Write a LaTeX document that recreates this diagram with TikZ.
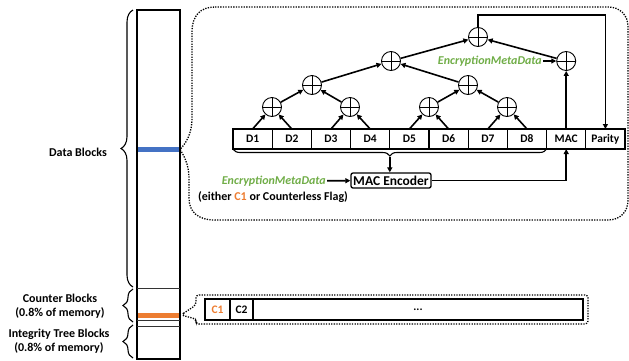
\documentclass[tikz,border=0pt]{standalone}
\usepackage{fontspec}
\setmainfont{Carlito}
\usepackage{xcolor}
\usepackage{tikz}
\usetikzlibrary{arrows.meta,positioning,calc,decorations.pathreplacing}
\definecolor{memblue}{HTML}{4472C4}
\definecolor{memorange}{HTML}{ED7D31}
\definecolor{memgreen}{HTML}{70AD47}

\begin{document}
\begin{tikzpicture}[
    x=1pt,y=-1pt,
    cell/.style   = {rectangle,draw,line width=1.3pt,outer sep=0pt,inner sep=0pt,
                     minimum width=39.2pt,minimum height=20pt,
                     font=\fontsize{11.5}{13}\selectfont\bfseries},
    ctr/.style    = {rectangle,draw,line width=1.3pt,outer sep=0pt,inner sep=0pt,
                     minimum height=21pt,font=\fontsize{11.5}{13}\selectfont\bfseries},
    xor/.style    = {circle,draw,line width=0.9pt,minimum size=19pt,inner sep=0pt,
                     path picture={\draw[line width=0.9pt]
                       (path picture bounding box.north) -- (path picture bounding box.south)
                       (path picture bounding box.west) -- (path picture bounding box.east);}},
    enc/.style    = {rectangle,rounded corners=2pt,draw,line width=1.3pt,inner sep=1pt,
                     minimum width=80pt,minimum height=15pt,
                     font=\fontsize{13.5}{15}\selectfont\bfseries},
    fl/.style     = {-{Triangle[length=5pt,width=5pt]},line width=1.6pt},
    lab/.style    = {font=\fontsize{12}{14.5}\selectfont\bfseries,align=center},
    meta/.style   = {font=\fontsize{12}{14}\selectfont\bfseries\itshape,text=memgreen,
                     inner sep=1pt},
    pointil/.style= {line width=1.3pt,dash pattern=on 1.3pt off 1.3pt},
    accol/.style  = {decorate,decoration={brace,amplitude=#1},line width=1.1pt},
  ]
  \useasboundingbox (0,0) rectangle (629,360);

  % memory column
  \draw[line width=1.5pt] (137,10) rectangle (180,359);
  \draw[line width=0.9pt,black!80] (137,288) -- (180,288) (137,320) -- (180,320)
                                   (137,326) -- (180,326);
  \fill[memblue]   (137.8,147) rectangle (179.2,152);
  \fill[memorange] (137.8,312.5) rectangle (179.2,317.5);
  \coordinate (bleu) at (180,149.5);
  \coordinate (orange) at (181,315);

  \draw[accol=12pt] (133,287) -- (133,10);
  \draw[accol=10pt] (133,322) -- (133,289);
  \draw[accol=10pt] (133,358) -- (133,325);

  \node[lab] (datalab) at (78,152) {Data Blocks};
  \node[lab] (ctrlab)  at (60,306) {Counter Blocks\\(0.8\% of memory)};
  \node[lab] (treelab) at (59,341) {Integrity Tree Blocks\\(0.8\% of memory)};

  % callout of one data block
  \draw[pointil] (215,7) -- (608,7) .. controls (620,7) and (628,15) .. (628,27)
       -- (628,200) .. controls (628,212) and (620,220) .. (608,220)
       -- (215,220) .. controls (198,220) and (189,212) .. (189,198)
       -- (189,178) .. controls (189,164) and (183,154) .. (bleu)
       .. controls (186,143) and (192,134) .. (192,118)
       -- (192,32) .. controls (192,16) and (200,7) .. (215,7);

  \node[cell] (d1)  at (252.6,139) {D1};
  \node[cell] (d2)  at (291.8,139) {D2};
  \node[cell] (d3)  at (331.0,139) {D3};
  \node[cell] (d4)  at (370.2,139) {D4};
  \node[cell] (d5)  at (409.4,139) {D5};
  \node[cell] (d6)  at (448.6,139) {D6};
  \node[cell] (d7)  at (487.8,139) {D7};
  \node[cell] (d8)  at (527.0,139) {D8};
  \node[cell] (mac) at (566.2,139) {MAC};
  \node[cell] (par) at (605.4,139) {Parity};

  \node[xor] (x1) at (272,107) {};
  \node[xor] (x2) at (350,107) {};
  \node[xor] (x3) at (429,107) {};
  \node[xor] (x4) at (507,107) {};
  \node[xor] (y1) at (312,85) {};
  \node[xor] (y2) at (468,85) {};
  \node[xor] (z1) at (391,61) {};
  \node[xor] (top) at (478,37) {};
  \node[xor] (xm) at (566.2,61) {};

  \draw[fl] (d1.north) -- (x1);
  \draw[fl] (d2.north) -- (x1);
  \draw[fl] (d3.north) -- (x2);
  \draw[fl] (d4.north) -- (x2);
  \draw[fl] (d5.north) -- (x3);
  \draw[fl] (d6.north) -- (x3);
  \draw[fl] (d7.north) -- (x4);
  \draw[fl] (d8.north) -- (x4);
  \draw[fl] (x1) -- (y1);
  \draw[fl] (x2) -- (y1);
  \draw[fl] (x3) -- (y2);
  \draw[fl] (x4) -- (y2);
  \draw[fl] (y1) -- (z1);
  \draw[fl] (y2) -- (z1);
  \draw[fl] (z1) -- (top);
  \draw[fl] (xm) -- (top);
  \draw[fl] (mac.north) -- (xm);

  \node[meta,anchor=east] (meta2) at (543,61) {EncryptionMetaData};
  \draw[fl] (meta2) -- (xm);

  \coordinate (crochet) at (605.4,15);
  \draw[fl] (top.north) |- (crochet) -- (par.north);

  % MAC encoder
  \draw[accol=7pt] (d8.south east) -- (d1.south west);
  \coordinate (pointe) at ($(d1.south west)!0.5!(d8.south east)+(0,8)$);
  \node[enc] (macenc) at (391,180.5) {MAC Encoder};
  \draw[fl] (pointe) -- (pointe |- macenc.north);
  \draw[fl] (macenc.east) -| (mac.south);

  \node[meta,anchor=east] (meta1) at (327,181) {EncryptionMetaData};
  \draw[fl] (meta1) -- (macenc);
  \node[lab] (either) at (273,197) {(either \textcolor{memorange}{C1} or Counterless Flag)};

  % counter block
  \draw[pointil,rounded corners=3pt] (orange) -- (196,305) -- (196,295) -- (588,295)
       -- (588,324) -- (196,324) -- (196,319) -- cycle;
  \node[ctr,minimum width=25pt,text=memorange] (c1) at (217.5,309.5) {C1};
  \node[ctr,minimum width=23pt,right=0pt of c1] (c2) {C2};
  \node[ctr,minimum width=330pt,right=0pt of c2] (rest) {\raisebox{-3pt}{...}};

\end{tikzpicture}
\end{document}
